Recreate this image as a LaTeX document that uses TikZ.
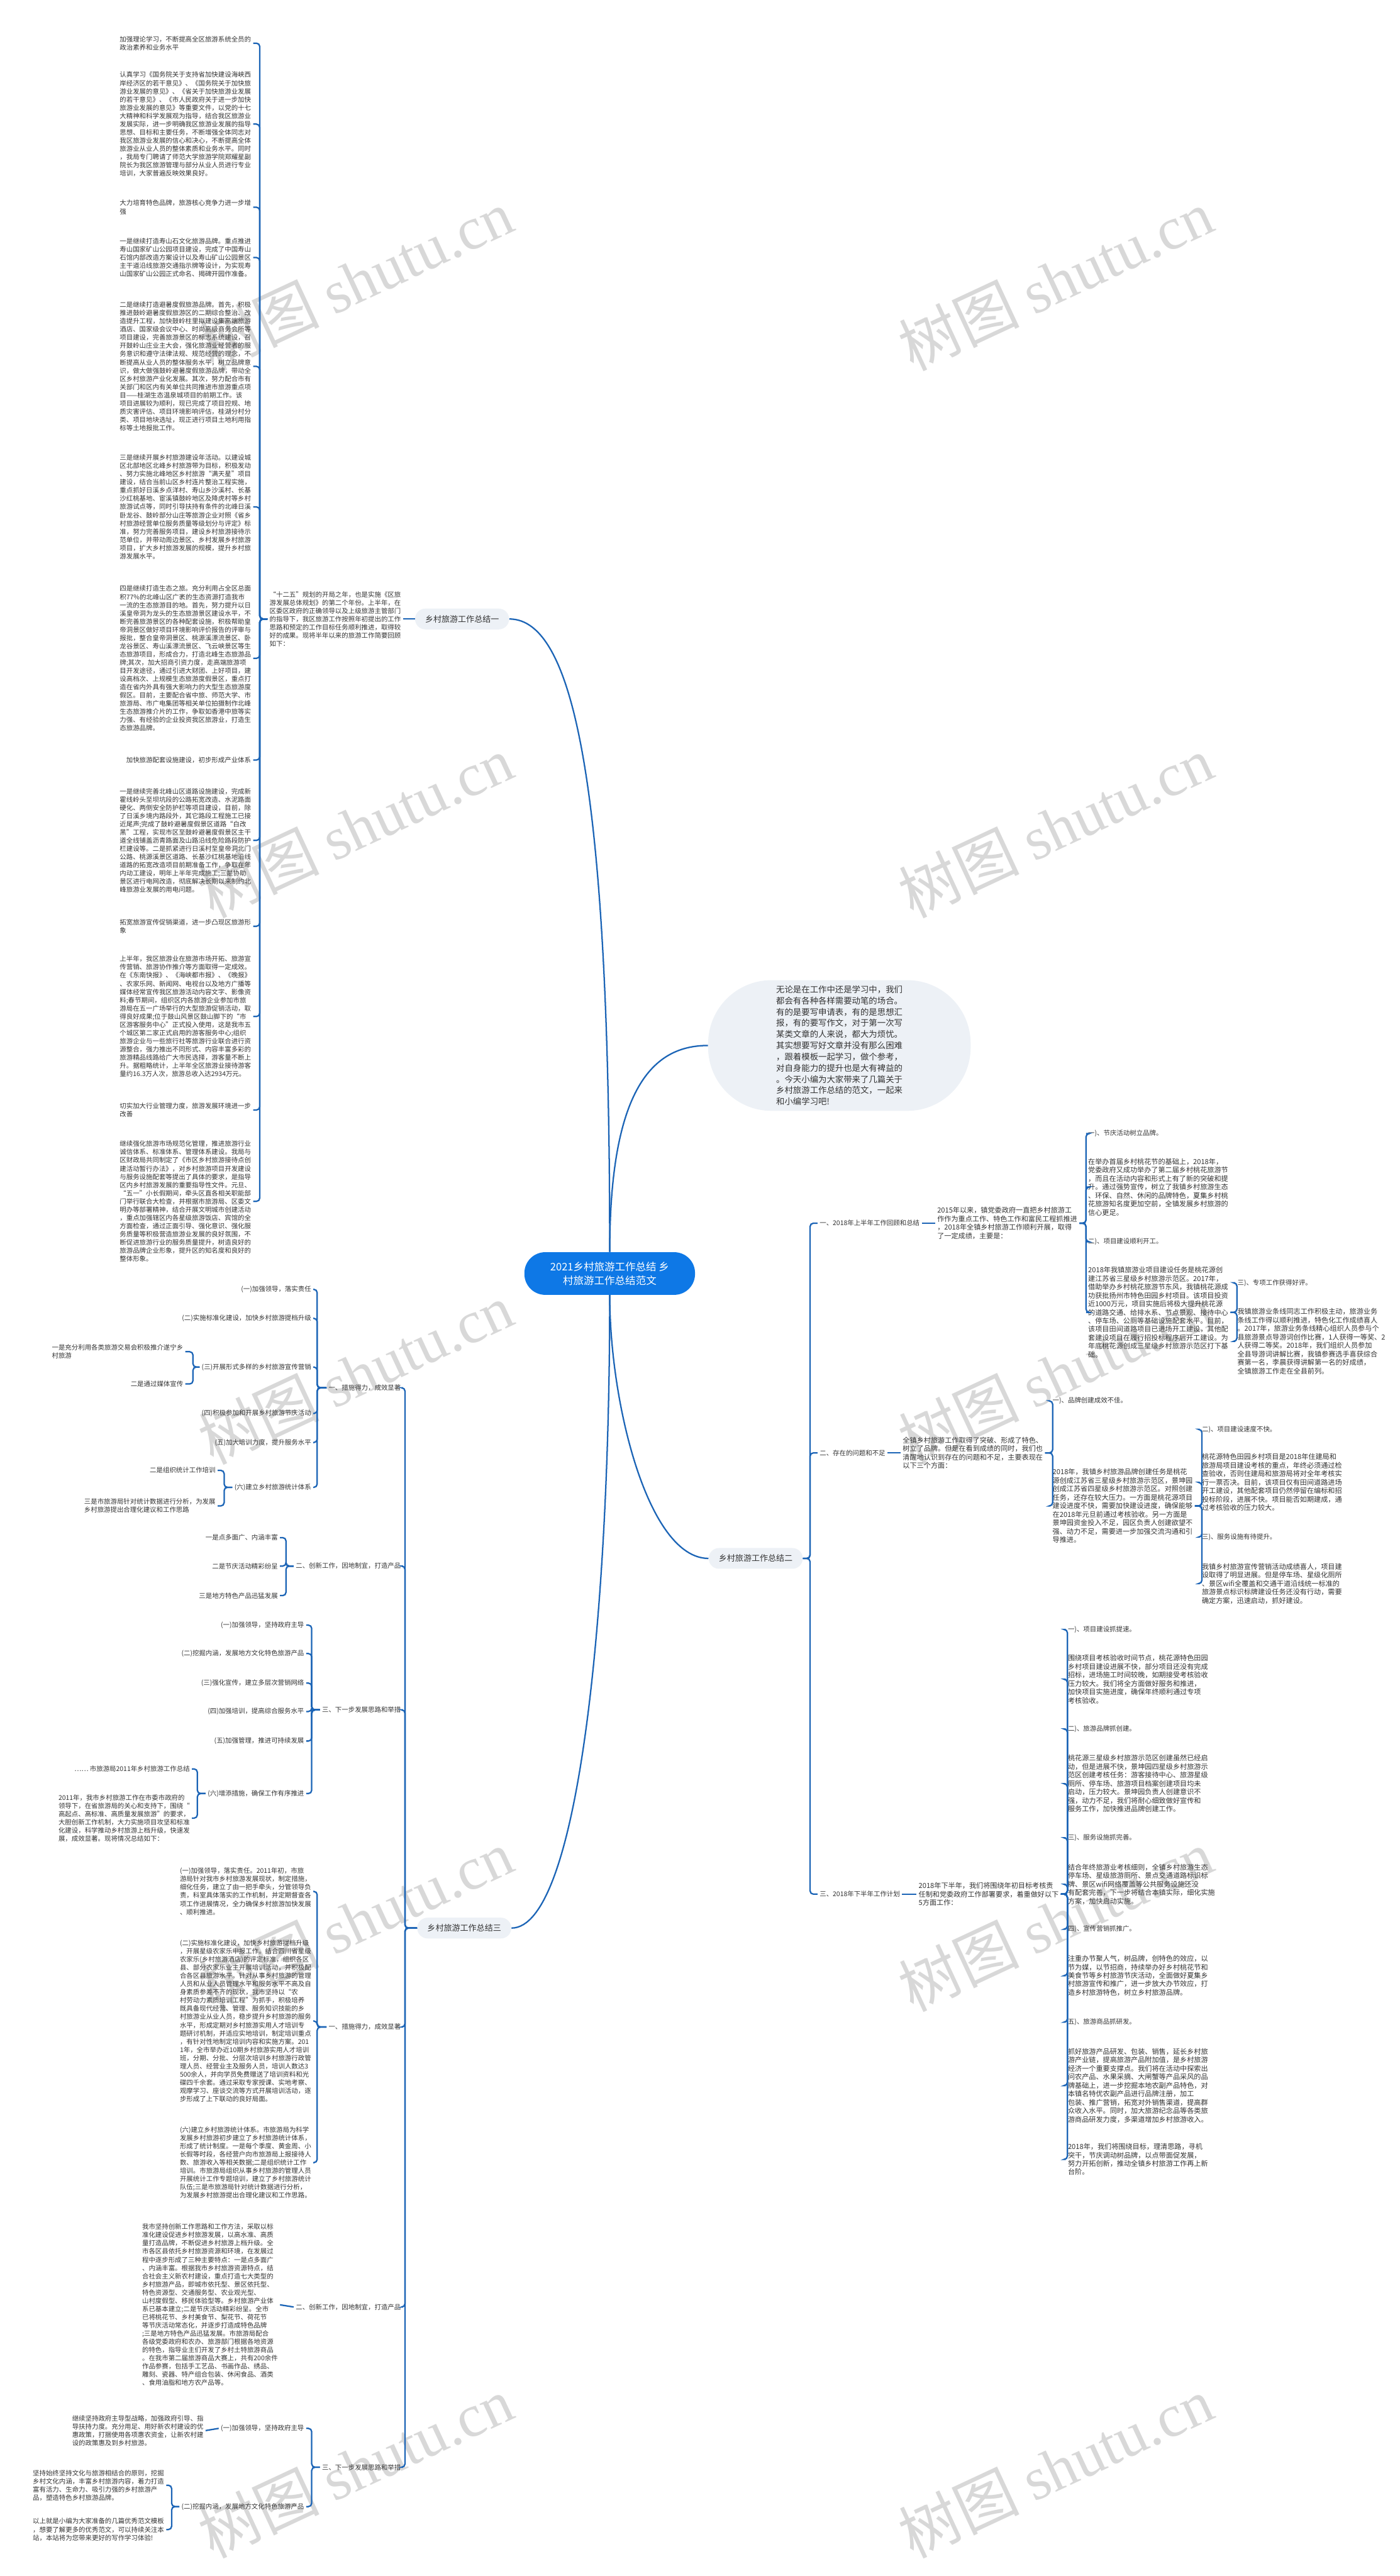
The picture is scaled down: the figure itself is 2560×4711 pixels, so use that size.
\documentclass[tikz,border=0pt]{standalone}
\usepackage{fontspec}
\setmainfont{Noto Sans CJK SC}
\newfontfamily\wmlatin{Liberation Serif}
\XeTeXlinebreaklocale "zh"
\XeTeXlinebreakskip=0pt plus 1pt
\definecolor{lc}{HTML}{1B64B6}
\definecolor{tc}{HTML}{333333}
\definecolor{pillc}{HTML}{EDF1F6}
\definecolor{rootc}{HTML}{0E78E6}
\definecolor{wmc}{HTML}{D8D8D8}
\tikzset{
  tx/.style={font=\fontsize{6}{7.5}\selectfont, text=tc, inner sep=0pt, outer sep=2pt, align=left},
  tb/.style={font=\fontsize{6.4}{7.75}\selectfont, text=tc, inner sep=0pt, outer sep=2pt, align=left},
  pillst/.style={fill=pillc, rounded corners=9.5pt, minimum width=86pt, minimum height=19pt, inner sep=0pt, text=tc, font=\fontsize{7.5}{9}\selectfont},
  conn/.style={draw=lc, line width=1.3pt, rounded corners=3pt},
  curv/.style={draw=lc, line width=1.3pt},
  wmark/.style={text=wmc, rotate=25, inner sep=0pt}
}
\newcommand\wmtext{{\fontsize{55}{55}\selectfont 树图 \wmlatin shutu.cn}}
\begin{document}
\begin{tikzpicture}[x=0.5pt,y=-0.5pt]
\useasboundingbox (0,0) rectangle (2560,4711);
\fill[white] (0,0) rectangle (2560,4711);
% watermarks
\foreach \wy in {512,1512,2512,3512,4512}{
  \node[wmark] at (650,\wy) {\wmtext};
  \node[wmark] at (1930,\wy) {\wmtext};
}
% root and intro
\node[fill=rootc, rounded corners=19pt, minimum width=156pt, minimum height=39pt, inner sep=0pt, text=white, align=center, font=\fontsize{9.5}{12.5}\selectfont] (R) at (1115,2329) {2021乡村旅游工作总结 乡\\村旅游工作总结范文};
\node[fill=pillc, rounded corners=58pt, minimum width=240pt, minimum height=119.5pt, inner sep=0pt, text=tc, align=left, font=\fontsize{7.7}{10.25}\selectfont] (IN) at (1535,1912) {无论是在工作中还是学习中，我们\\都会有各种各样需要动笔的场合。\\有的是要写申请表，有的是思想汇\\报，有的要写作文，对于第一次写\\某类文章的人来说，都大为烦忧。\\其实想要写好文章并没有那么困难\\，跟着模板一起学习，做个参考，\\对自身能力的提升也是大有裨益的\\。今天小编为大家带来了几篇关于\\乡村旅游工作总结的范文，一起来\\和小编学习吧!};
% branch labels
\node[pillst] (L1) at (845,1132) {乡村旅游工作总结一};
\node[pillst] (L2) at (1382,2850) {乡村旅游工作总结二};
\node[pillst] (L3) at (849,3526) {乡村旅游工作总结三};
% ================= branch 1 =================
\node[tx,anchor=west] (T1) at (489,1132) {“十二五”规划的开局之年，也是实施《区旅\\游发展总体规划》的第二个年份。上半年，在\\区委区政府的正确领导以及上级旅游主管部门\\的指导下，我区旅游工作按照年初提出的工作\\思路和预定的工作目标任务顺利推进，取得较\\好的成果。现将半年以来的旅游工作简要回顾\\如下：};
\node[tx,anchor=east] (A1) at (463,79) {加强理论学习，不断提高全区旅游系统全员的\\政治素养和业务水平};
\node[tx,anchor=east] (A2) at (463,227) {认真学习《国务院关于支持省加快建设海峡西\\岸经济区的若干意见》、《国务院关于加快旅\\游业发展的意见》、《省关于加快旅游业发展\\的若干意见》、《市人民政府关于进一步加快\\旅游业发展的意见》等重要文件，以党的十七\\大精神和科学发展观为指导，结合我区旅游业\\发展实际，进一步明确我区旅游业发展的指导\\思想、目标和主要任务，不断增强全体同志对\\我区旅游业发展的信心和决心，不断提高全体\\旅游业从业人员的整体素质和业务水平。同时\\，我局专门聘请了师范大学旅游学院郑耀星副\\院长为我区旅游管理与部分从业人员进行专业\\培训，大家普遍反映效果良好。};
\node[tx,anchor=east] (A3) at (463,379) {大力培育特色品牌，旅游核心竞争力进一步增\\强};
\node[tx,anchor=east] (A4) at (463,471) {一是继续打造寿山石文化旅游品牌。重点推进\\寿山国家矿山公园项目建设，完成了中国寿山\\石馆内部改造方案设计以及寿山矿山公园景区\\主干道沿线旅游交通指示牌等设计，为实现寿\\山国家矿山公园正式命名、揭碑开园作准备。};
\node[tx,anchor=east] (A5) at (463,670) {二是继续打造避暑度假旅游品牌。首先，积极\\推进鼓岭避暑度假旅游区的二期综合整治、改\\造提升工程，加快鼓岭柱里拟建设集高端旅游\\酒店、国家级会议中心、时尚高级商务会所等\\项目建设，完善旅游景区的标志系统建设，召\\开鼓岭山庄业主大会，强化旅游业经营者的服\\务意识和遵守法律法规、规范经营的理念，不\\断提高从业人员的整体服务水平，树立品牌意\\识，做大做强鼓岭避暑度假旅游品牌，带动全\\区乡村旅游产业化发展。其次，努力配合市有\\关部门和区内有关单位共同推进市旅游重点项\\目——桂湖生态温泉城项目的前期工作。该\\项目进展较为顺利，现已完成了项目控规、地\\质灾害评估、项目环境影响评估，桂湖分村分\\类、项目地块选址，现正进行项目土地利用指\\标等土地报批工作。};
\node[tx,anchor=east] (A6) at (463,927) {三是继续开展乡村旅游建设年活动。以建设城\\区北部地区北峰乡村旅游带为目标，积极发动\\、努力实施北峰地区乡村旅游“满天星”项目\\建设，结合当前山区乡村连片整治工程实施，\\重点抓好日溪乡点洋村、寿山乡沙溪村、长基\\沙红桃基地、宦溪镇鼓岭地区及降虎村等乡村\\旅游试点等，同时引导扶持有条件的北峰日溪\\卧龙谷、鼓岭部分山庄等旅游企业对照《省乡\\村旅游经营单位服务质量等级划分与评定》标\\准，努力完善服务项目，建设乡村旅游接待示\\范单位，并带动周边景区、乡村发展乡村旅游\\项目，扩大乡村旅游发展的规模，提升乡村旅\\游发展水平。};
\node[tx,anchor=east] (A7) at (463,1204) {四是继续打造生态之旅。充分利用占全区总面\\积77\%的北峰山区广袤的生态资源打造我市\\一流的生态旅游目的地。首先，努力提升以日\\溪皇帝洞为龙头的生态旅游景区建设水平，不\\断完善旅游景区的各种配套设施，积极帮助皇\\帝洞景区做好项目环境影响评价报告的评审与\\报批，整合皇帝洞景区、桃源溪漂流景区、卧\\龙谷景区、寿山溪漂流景区、飞云峡景区等生\\态旅游项目，形成合力，打造北峰生态旅游品\\牌;其次，加大招商引资力度，走高端旅游项\\目开发途径，通过引进大财团、上好项目，建\\设高档次、上规模生态旅游度假景区，重点打\\造在省内外具有强大影响力的大型生态旅游度\\假区。目前，主要配合省中旅、师范大学、市\\旅游局、市广电集团等相关单位拍摄制作北峰\\生态旅游推介片的工作，争取如香港中旅等实\\力强、有经验的企业投资我区旅游业，打造生\\态旅游品牌。};
\node[tx,anchor=east] (A8) at (463,1390) {加快旅游配套设施建设，初步形成产业体系};
\node[tx,anchor=east] (A9) at (463,1537) {一是继续完善北峰山区道路设施建设，完成新\\霍线岭头至坝坑段的公路拓宽改造、水泥路面\\硬化、两侧安全防护栏等项目建设，目前，除\\了日溪乡境内路段外，其它路段工程施工已接\\近尾声;完成了鼓岭避暑度假景区道路“白改\\黑”工程，实现市区至鼓岭避暑度假景区主干\\道全线铺盖沥青路面及山路沿线危险路段防护\\栏建设等。二是抓紧进行日溪村至皇帝洞北门\\公路、桃源溪景区道路、长基沙红桃基地沿线\\道路的拓宽改造项目前期准备工作，争取在年\\内动工建设，明年上半年完成施工;三是协助\\景区进行电网改造，彻底解决长期以来制约北\\峰旅游业发展的用电问题。};
\node[tx,anchor=east] (A10) at (463,1694) {拓宽旅游宣传促销渠道，进一步凸现区旅游形\\象};
\node[tx,anchor=east] (A11) at (463,1859) {上半年，我区旅游业在旅游市场开拓、旅游宣\\传营销、旅游协作推介等方面取得一定成效。\\在《东南快报》、《海峡都市报》、《晚报》\\、农家乐网、新闻网、电视台以及地方广播等\\媒体经常宣传我区旅游活动内容文字、影像资\\料;春节期间，组织区内各旅游企业参加市旅\\游局在五一广场举行的大型旅游促销活动，取\\得良好成果;位于鼓山风景区鼓山脚下的“市\\区游客服务中心”正式投入使用，这是我市五\\个城区第二家正式启用的游客服务中心;组织\\旅游企业与一些旅行社等旅游行业联合进行资\\源整合，强力推出不同形式、内容丰富多彩的\\旅游精品线路给广大市民选择，游客量不断上\\升。据粗略统计，上半年全区旅游业接待游客\\量约16.3万人次，旅游总收入达2934万元。};
\node[tx,anchor=east] (A12) at (463,2030) {切实加大行业管理力度，旅游发展环境进一步\\改善};
\node[tx,anchor=east] (A13) at (463,2197) {继续强化旅游市场规范化管理，推进旅游行业\\诚信体系、标准体系、管理体系建设。我局与\\区财政局共同制定了《市区乡村旅游接待点创\\建活动暂行办法》，对乡村旅游项目开发建设\\与服务设施配套等提出了具体的要求，是指导\\区内乡村旅游发展的重要指导性文件。元旦、\\“五一”小长假期间，牵头区直各相关职能部\\门举行联合大检查，并根据市旅游局、区委文\\明办等部署精神，结合开展文明城市创建活动\\，重点加强辖区内各星级旅游饭店、宾馆的全\\方面检查，通过正面引导、强化意识、强化服\\务质量等积极营造旅游业发展的良好氛围，不\\断促进旅游行业的服务质量提升，树造良好的\\旅游品牌企业形象，提升区的知名度和良好的\\整体形象。};
% ================= branch 2 =================
\node[tx,anchor=west] (D1) at (1495,2237) {一、2018年上半年工作回顾和总结};
\node[tb,anchor=west] (E0) at (1710,2237) {2015年以来，镇党委政府一直把乡村旅游工\\作作为重点工作、特色工作和富民工程抓推进\\，2018年全镇乡村旅游工作顺利开展，取得\\了一定成绩，主要是：};
\node[tx,anchor=west] (E1) at (1986,2073) {一)、节庆活动树立品牌。};
\node[tb,anchor=west] (E2) at (1986,2171) {在举办首届乡村桃花节的基础上，2018年，\\党委政府又成功举办了第二届乡村桃花旅游节\\，而且在活动内容和形式上有了新的突破和提\\升。通过强势宣传，树立了我镇乡村旅游生态\\、环保、自然、休闲的品牌特色，夏集乡村桃\\花旅游知名度更加空前，全镇发展乡村旅游的\\信心更足。};
\node[tx,anchor=west] (E3) at (1986,2271) {二)、项目建设顺利开工。};
\node[tb,anchor=west] (E4) at (1986,2400) {2018年我镇旅游业项目建设任务是桃花源创\\建江苏省三星级乡村旅游示范区。2017年，\\借助举办乡村桃花旅游节东风，我镇桃花源成\\功获批扬州市特色田园乡村项目。该项目投资\\近1000万元，项目实施后将极大提升桃花源\\的道路交通、给排水系、节点景观、接待中心\\、停车场、公厕等基础设施配套水平。目前，\\该项目田间道路项目已进场开工建设，其他配\\套建设项目在履行招投标程序后开工建设。为\\年底桃花源创成三星级乡村旅游示范区打下基\\础。};
\node[tx,anchor=west] (F1) at (2259,2346) {三)、专项工作获得好评。};
\node[tb,anchor=west] (F2) at (2259,2453) {我镇旅游业条线同志工作积极主动，旅游业务\\条线工作得以顺利推进，特色化工作成绩喜人\\。2017年，旅游业务条线精心组织人员参与个\\县旅游景点导游词创作比赛，1人获得一等奖、2\\人获得二等奖。2018年，我们组织人员参加\\全县导游词讲解比赛，我镇参赛选手喜获综合\\赛第一名，李晨获得讲解第一名的好成绩，\\全镇旅游工作走在全县前列。};
\node[tx,anchor=west] (D2) at (1495,2657) {二、存在的问题和不足};
\node[tb,anchor=west] (G0) at (1647,2657) {全镇乡村旅游工作取得了突破、形成了特色、\\树立了品牌。但是在看到成绩的同时，我们也\\清醒地认识到存在的问题和不足，主要表现在\\以下三个方面：};
\node[tx,anchor=west] (G1) at (1921,2562) {一)、品牌创建成效不佳。};
\node[tb,anchor=west] (G2) at (1921,2754) {2018年，我镇乡村旅游品牌创建任务是桃花\\源创成江苏省三星级乡村旅游示范区，景坤园\\创成江苏省四星级乡村旅游示范区。对照创建\\任务，还存在较大压力。一方面是桃花源项目\\建设进度不快，需要加快建设进度，确保能够\\在2018年元旦前通过考核验收。另一方面是\\景坤园资金投入不足，园区负责人创建欲望不\\强、动力不足，需要进一步加强交流沟通和引\\导推进。};
\node[tx,anchor=west] (H1) at (2194,2614) {二)、项目建设速度不快。};
\node[tb,anchor=west] (H2) at (2194,2711) {桃花源特色田园乡村项目是2018年住建局和\\旅游局项目建设考核的重点，年终必须通过检\\查验收，否则住建局和旅游局将对全年考核实\\行一票否决。目前，该项目仅有田间道路进场\\开工建设，其他配套项目仍然停留在编标和招\\投标阶段，进展不快。项目能否如期建成，通\\过考核验收的压力较大。};
\node[tx,anchor=west] (H3) at (2194,2811) {三)、服务设施有待提升。};
\node[tb,anchor=west] (H4) at (2194,2896) {我镇乡村旅游宣传营销活动成绩喜人，项目建\\设取得了明显进展。但是停车场、星级化厕所\\、景区wifi全覆盖和交通干道沿线统一标准的\\旅游景点标识标牌建设任务还没有行动，需要\\确定方案，迅速启动，抓好建设。};
\node[tx,anchor=west] (D3) at (1495,3464) {三、2018年下半年工作计划};
\node[tb,anchor=west] (I0) at (1676,3464) {2018年下半年，我们将围绕年初目标考核责\\任制和党委政府工作部署要求，着重做好以下\\5方面工作：};
\node[tx,anchor=west] (I1) at (1949,2980) {一)、项目建设抓提速。};
\node[tb,anchor=west] (I2) at (1949,3071) {围绕项目考核验收时间节点，桃花源特色田园\\乡村项目建设进展不快，部分项目还没有完成\\招标，进场施工时间较晚，如期接受考核验收\\压力较大。我们将全方面做好服务和推进，\\加快项目实施进度，确保年终顺利通过专项\\考核验收。};
\node[tx,anchor=west] (I3) at (1949,3162) {二)、旅游品牌抓创建。};
\node[tb,anchor=west] (I4) at (1949,3262) {桃花源三星级乡村旅游示范区创建虽然已经启\\动，但是进展不快，景坤园四星级乡村旅游示\\范区创建考核任务：游客接待中心、旅游星级\\厕所、停车场、旅游项目档案创建项目均未\\启动，压力较大。景坤园负责人创建意识不\\强，动力不足，我们将耐心细致做好宣传和\\服务工作，加快推进品牌创建工作。};
\node[tx,anchor=west] (I5) at (1949,3361) {三)、服务设施抓完善。};
\node[tb,anchor=west] (I6) at (1949,3446) {结合年终旅游业考核细则，全镇乡村旅游生态\\停车场、星级旅游厕所、景点交通道路标识标\\牌、景区wifi网络覆盖等公共服务设施还没\\有配套完善，下一步将结合本镇实际，细化实施\\方案，加快启动实施。};
\node[tx,anchor=west] (I7) at (1949,3528) {四)、宣传营销抓推广。};
\node[tb,anchor=west] (I8) at (1949,3613) {注重办节聚人气，树品牌，创特色的效应，以\\节为媒，以节招商，持续举办好乡村桃花节和\\美食节等乡村旅游节庆活动，全面做好夏集乡\\村旅游宣传和推广，进一步放大办节效应，打\\造乡村旅游特色，树立乡村旅游品牌。};
\node[tx,anchor=west] (I9) at (1949,3698) {五)、旅游商品抓研发。};
\node[tb,anchor=west] (I10) at (1949,3814) {抓好旅游产品研发、包装、销售，延长乡村旅\\游产业链，提高旅游产品附加值，是乡村旅游\\经济一个重要支撑点。我们将在活动中探索出\\问农产品、水果采摘、大闸蟹等产品采风的品\\牌基础上，进一步挖掘本地农副产品特色，对\\本镇名特优农副产品进行品牌注册，加工\\包装、推广营销，拓宽对外销售渠道，提高群\\众收入水平。同时，加大旅游纪念品等各类旅\\游商品研发力度，多渠道增加乡村旅游收入。};
\node[tb,anchor=west] (I11) at (1949,3949) {2018年，我们将围绕目标，理清思路，寻机\\突干，节庆调动树品牌，以点带面促发展，\\努力开拓创新，推动全镇乡村旅游工作再上新\\台阶。};
% ================= branch 3 =================
\node[tx,anchor=east] (C1) at (737,2538) {一、措施得力，成效显著};
\node[tx,anchor=east] (C2) at (737,2864) {二、创新工作，因地制宜，打造产品};
\node[tx,anchor=east] (C3) at (737,3127) {三、下一步发展思路和举措};
\node[tx,anchor=east] (C4) at (737,3707) {一、措施得力，成效显著};
\node[tx,anchor=east] (C5) at (737,4219) {二、创新工作，因地制宜，打造产品};
\node[tx,anchor=east] (C6) at (737,4512) {三、下一步发展思路和举措};
% C1 children
\node[tx,anchor=east] (C1a) at (573,2358) {(一)加强领导，落实责任};
\node[tx,anchor=east] (C1b) at (573,2411) {(二)实施标准化建设，加快乡村旅游提档升级};
\node[tx,anchor=east] (C1c) at (573,2500) {(三)开展形式多样的乡村旅游宣传营销};
\node[tx,anchor=east] (C1d) at (573,2585) {(四)积极参加和开展乡村旅游节庆活动};
\node[tx,anchor=east] (C1e) at (573,2638) {(五)加大培训力度，提升服务水平};
\node[tx,anchor=east] (C1f) at (573,2720) {(六)建立乡村旅游统计体系};
\node[tx,anchor=east] (C1c1) at (339,2472) {一是充分利用各类旅游交易会积极推介遂宁乡\\村旅游};
\node[tx,anchor=east] (C1c2) at (339,2531) {二是通过媒体宣传};
\node[tx,anchor=east] (C1f1) at (398,2689) {二是组织统计工作培训};
\node[tx,anchor=east] (C1f2) at (398,2754) {三是市旅游局针对统计数据进行分析，为发展\\乡村旅游提出合理化建议和工作思路};
% C2 children
\node[tx,anchor=east] (C2a) at (512,2812) {一是点多面广、内涵丰富};
\node[tx,anchor=east] (C2b) at (512,2864) {二是节庆活动精彩纷呈};
\node[tx,anchor=east] (C2c) at (512,2918) {三是地方特色产品迅猛发展};
% C3 children
\node[tx,anchor=east] (C3a) at (560,2972) {(一)加强领导，坚持政府主导};
\node[tx,anchor=east] (C3b) at (560,3024) {(二)挖掘内涵，发展地方文化特色旅游产品};
\node[tx,anchor=east] (C3c) at (560,3078) {(三)强化宣传，建立多层次营销网络};
\node[tx,anchor=east] (C3d) at (560,3130) {(四)加强培训，提高综合服务水平};
\node[tx,anchor=east] (C3e) at (560,3184) {(五)加强管理，推进可持续发展};
\node[tx,anchor=east] (C3f) at (560,3280) {(六)增添措施，确保工作有序推进};
\node[tx,anchor=east] (C3f1) at (351,3235) {…… 市旅游局2011年乡村旅游工作总结};
\node[tx,anchor=east] (C3f2) at (351,3325) {2011年，我市乡村旅游工作在市委市政府的\\领导下，在省旅游局的关心和支持下，围绕“\\高起点、高标准、高质量发展旅游”的要求，\\大胆创新工作机制，大力实施项目攻坚和标准\\化建设，科学推动乡村旅游上档升级，快速发\\展，成效显著。现将情况总结如下：};
% C4 children
\node[tx,anchor=east] (C4a) at (573,3459) {(一)加强领导，落实责任。2011年初，市旅\\游局针对我市乡村旅游发展现状，制定措施，\\细化任务，建立了由一把手牵头，分管领导负\\责，科室具体落实的工作机制，并定期督查各\\项工作进展情况，全力确保乡村旅游加快发展\\、顺利推进。};
\node[tx,anchor=east] (C4b) at (573,3696) {(二)实施标准化建设，加快乡村旅游提档升级\\，开展星级农家乐申报工作。结合四川省星级\\农家乐(乡村旅游酒店)的评定标准，组织各区\\县、部分农家乐业主开展培训活动，并积极配\\合各区县旅游水平。针对从事乡村旅游的管理\\人员和从业人员管理水平和服务水平不高及自\\身素质参差不齐的现状，我市坚持以“农\\村劳动力素质培训工程”为抓手，积极培养\\既具备现代经营、管理、服务知识技能的乡\\村旅游业从业人员，稳步提升乡村旅游的服务\\水平，形成定期对乡村旅游实用人才培训专\\题研讨机制，并适应实地培训，制定培训重点\\，有针对性地制定培训内容和实施方案。201\\1年，全市举办近10期乡村旅游实用人才培训\\班，分期、分批、分层次培训乡村旅游行政管\\理人员、经营业主及服务人员，培训人数达3\\500余人，并向学员免费赠送了培训资料和光\\碟四千余套。通过采取专家授课、实地考察、\\观摩学习、座谈交流等方式开展培训活动，逐\\步形成了上下联动的良好局面。};
\node[tx,anchor=east] (C4c) at (573,3955) {(六)建立乡村旅游统计体系。市旅游局为科学\\发展乡村旅游初步建立了乡村旅游统计体系，\\形成了统计制度。一是每个季度、黄金周、小\\长假等时段，各经营户向市旅游局上报接待人\\数、旅游收入等相关数据;二是组织统计工作\\培训。市旅游局组织从事乡村旅游的管理人员\\开展统计工作专题培训，建立了乡村旅游统计\\队伍;三是市旅游局针对统计数据进行分析，\\为发展乡村旅游提出合理化建议和工作思路。};
% C5 child
\node[tx,anchor=east] (C5a) at (512,4215) {我市坚持创新工作思路和工作方法，采取以标\\准化建设促进乡村旅游发展，以高水准、高质\\量打造品牌，不断促进乡村旅游上档升级。全\\市各区县依托乡村旅游资源和环境，在发展过\\程中逐步形成了三种主要特点：一是点多面广\\、内涵丰富。根据我市乡村旅游资源特点，结\\合社会主义新农村建设，重点打造七大类型的\\乡村旅游产品，即城市依托型、景区依托型、\\特色资源型、交通服务型、农业观光型、\\山村度假型、移民体验型等。乡村旅游产业体\\系已基本建立;二是节庆活动精彩纷呈。全市\\已将桃花节、乡村美食节、梨花节、荷花节\\等节庆活动常态化，并逐步打造成特色品牌\\;三是地方特色产品迅猛发展。市旅游局配合\\各级党委政府和农办、旅游部门根据各地资源\\的特色，指导业主们开发了乡村土特旅游商品\\。在我市第二届旅游商品大赛上，共有200余件\\作品参赛，包括手工艺品、书画作品、绣品、\\雕刻、瓷器、特产组合包装、休闲食品、酒类\\、食用油脂和地方农产品等。};
% C6 children
\node[tx,anchor=east] (C6a) at (560,4441) {(一)加强领导，坚持政府主导};
\node[tx,anchor=east] (C6b) at (560,4584) {(二)挖掘内涵，发展地方文化特色旅游产品};
\node[tx,anchor=east] (C6a1) at (376,4445) {继续坚持政府主导型战略，加强政府引导、指\\导扶持力度。充分用足、用好新农村建设的优\\惠政策，打捆使用各项惠农资金，让新农村建\\设的政策惠及到乡村旅游。};
\node[tx,anchor=east] (C6b1) at (304,4545) {坚持始终坚持文化与旅游相结合的原则，挖掘\\乡村文化内涵，丰富乡村旅游内容，着力打造\\富有活力、生命力、吸引力强的乡村旅游产\\品，塑造特色乡村旅游品牌。};
\node[tx,anchor=east] (C6b2) at (304,4626) {以上就是小编为大家准备的几篇优秀范文模板\\，想要了解更多的优秀范文，可以持续关注本\\站，本站将为您带来更好的写作学习体验!};
% ================= connectors =================
\draw[curv] (R.north) .. controls +(0,-840) and +(120,0) .. (L1.east);
\draw[curv] (R.north) .. controls +(0,-300) and +(-100,0) .. (IN.west);
\draw[curv] (R.south) .. controls +(0,200) and +(-110,0) .. (L2.west);
\draw[curv] (R.south) .. controls +(0,600) and +(120,0) .. (L3.east);
% branch 1
\draw[conn] (L1.west) -- (T1.east);
\foreach \n in {1,...,13}{\draw[conn] (T1.west) -- ++(-14,0) |- (A\n.east);}
% branch 2
\foreach \n in {1,2,3}{\draw[conn] (L2.east) -- ++(13,0) |- (D\n.west);}
\draw[conn] (D1.east) -- (E0.west);
\draw[conn] (D2.east) -- (G0.west);
\draw[conn] (D3.east) -- (I0.west);
\foreach \n in {1,2,3,4}{\draw[conn] (E0.east) -- ++(12,0) |- (E\n.west);}
\foreach \n in {1,2}{\draw[conn] (E4.east) -- ++(12,0) |- (F\n.west);}
\foreach \n in {1,2}{\draw[conn] (G0.east) -- ++(14,0) |- (G\n.west);}
\foreach \n in {1,2,3,4}{\draw[conn] (G2.east) -- ++(13,0) |- (H\n.west);}
\foreach \n in {1,...,11}{\draw[conn] (I0.east) -- ++(12,0) |- (I\n.west);}
% branch 3
\foreach \n in {1,...,6}{\draw[conn] (L3.west) -- ++(-22,0) |- (C\n.east);}
\foreach \n in {a,b,c,d,e,f}{\draw[conn] (C1.west) -- ++(-17,0) |- (C1\n.east);}
\foreach \n in {1,2}{\draw[conn] (C1c.west) -- ++(-12,0) |- (C1c\n.east);}
\foreach \n in {1,2}{\draw[conn] (C1f.west) -- ++(-15,0) |- (C1f\n.east);}
\foreach \n in {a,b,c}{\draw[conn] (C2.west) -- ++(-14,0) |- (C2\n.east);}
\foreach \n in {a,b,c,d,e,f}{\draw[conn] (C3.west) -- ++(-15,0) |- (C3\n.east);}
\foreach \n in {1,2}{\draw[conn] (C3f.west) -- ++(-15,0) |- (C3f\n.east);}
\foreach \n in {a,b,c}{\draw[conn] (C4.west) -- ++(-17,0) |- (C4\n.east);}
\draw[conn] (C5.west) -- (C5a.east);
\foreach \n in {a,b}{\draw[conn] (C6.west) -- ++(-15,0) |- (C6\n.east);}
\draw[conn] (C6a.west) -- (C6a1.east);
\foreach \n in {1,2}{\draw[conn] (C6b.west) -- ++(-14,0) |- (C6b\n.east);}
\end{tikzpicture}
\end{document}
